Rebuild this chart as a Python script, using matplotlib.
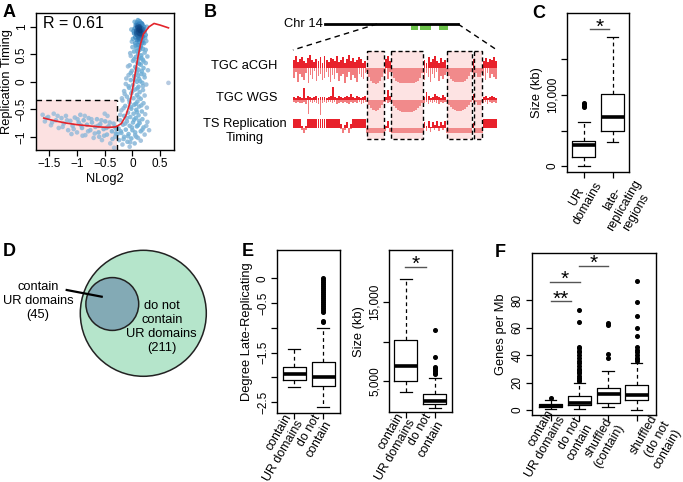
import numpy as np
import matplotlib.pyplot as plt
from matplotlib.patches import Rectangle, Circle
from matplotlib.colors import LinearSegmentedColormap
from matplotlib.transforms import ScaledTranslation

plt.rcParams['font.family'] = ['Liberation Sans', 'DejaVu Sans']
plt.rcParams['font.size'] = 9.3
plt.rcParams['axes.linewidth'] = 1.0

W, H = 683, 482

# ---------------- data ----------------
# A: copy number (NLog2) vs replication timing
nlog2 = [0.10, 0.13, 0.08, 0.15, 0.11, 0.06, 0.18, 0.13, 0.09, 0.16, 0.04, 0.12, 0.20, 0.07, 0.14,
         0.10, 0.17, 0.03, 0.22, 0.12, 0.08, 0.15, 0.19, 0.05, 0.11, 0.24, 0.14, 0.01, 0.08, 0.18,
         0.12, 0.05, 0.21, 0.10, 0.15, 0.00, 0.25, 0.07, 0.19, 0.13, -0.02, 0.26, 0.13, 0.10, 0.12,
         0.14, 0.09, 0.11, 0.16, 0.07,
         0.03, 0.22, 0.10, 0.16, -0.03, 0.06, 0.27, 0.12, 0.19, 0.01, 0.09, 0.24, 0.15, -0.05, 0.05,
         0.20, 0.11, -0.01, 0.28, 0.08, 0.16, -0.07, 0.03, 0.22, 0.12, -0.03, 0.08, 0.18, -0.12, 0.01,
         0.25, 0.11, -0.06, 0.05, 0.19, -0.15, 0.13, -0.02, 0.08, 0.22, -0.10, 0.02, 0.15, -0.18, 0.09,
         -0.05, 0.20, 0.03, -0.13, 0.12, 0.26, -0.02, 0.07, -0.20, 0.17, -0.08, 0.02, 0.23, 0.11, -0.15,
         -0.04, 0.06, 0.18, -0.22, -0.10, 0.01, 0.13, 0.27, -0.17, -0.05, 0.08, 0.20, -0.25, -0.12, 0.00,
         0.15, -0.20, -0.07, 0.05, 0.22, -0.15, -0.02, 0.10, -0.24, -0.09, 0.04, -0.18, -0.05, 0.15, 0.30,
         0.65,
         0.04, 0.17, 0.09, 0.21, 0.13, 0.02, 0.19, 0.07, 0.15, 0.23, 0.11, -0.01, 0.18, 0.06, 0.14,
         0.24, 0.09, -0.04, 0.16, 0.03, 0.20, 0.12, -0.08, 0.07, 0.17, -0.03, 0.10, 0.21, -0.11, 0.04,
         0.14, -0.07, 0.09, 0.19, -0.14, 0.00, 0.11, -0.19, -0.06, 0.06, 0.16, -0.16, -0.03, 0.08, -0.22,
         -0.10, 0.03, 0.12, -0.13, -0.01, 0.10, -0.21, -0.08, 0.05, 0.18, -0.27, -0.16, -0.04, 0.07, 0.25,
         -1.62, -1.58, -1.52, -1.47, -1.42, -1.38, -1.33, -1.28, -1.24, -1.20, -1.16, -1.12, -1.08, -1.04,
         -1.00, -0.97, -0.94, -0.91, -0.88, -0.85, -0.82, -0.79, -0.76, -0.73, -0.70, -0.67, -0.64, -0.61,
         -0.58, -0.55, -0.52, -0.49, -0.46, -0.43, -0.40, -0.37, -0.34, -0.31, -0.29, -0.33, -0.45, -0.60,
         -0.90, -1.10, -0.50,
         -1.55, -1.45, -1.35, -1.26, -1.18, -1.06, -0.99, -0.93, -0.86, -0.80, -0.74, -0.68, -0.62, -0.56,
         -0.51, -0.47, -0.41, -0.36, -0.32, -0.30]
rtime = [1.12, 1.10, 1.08, 1.07, 1.05, 1.03, 1.04, 1.01, 0.99, 0.98, 0.97, 0.95, 0.96, 0.93, 0.92,
         0.90, 0.89, 0.88, 0.91, 0.87, 0.85, 0.84, 0.82, 0.81, 0.80, 0.85, 0.78, 0.78, 0.76, 0.75,
         0.72, 0.70, 0.70, 0.67, 0.65, 0.63, 0.74, 0.61, 0.60, 0.58, 0.95, 1.00, 0.97, 0.94, 1.00,
         0.88, 1.06, 0.83, 0.93, 0.89,
         0.55, 0.53, 0.51, 0.48, 0.47, 0.45, 0.46, 0.42, 0.40, 0.38, 0.35, 0.34, 0.31, 0.30, 0.27,
         0.25, 0.22, 0.20, 0.21, 0.17, 0.14, 0.12, 0.10, 0.08, 0.05, 0.03, 0.00, -0.02, -0.04, -0.06,
         -0.05, -0.09, -0.11, -0.14, -0.15, -0.17, -0.19, -0.21, -0.24, -0.25, -0.27, -0.30, -0.31, -0.34, -0.36,
         -0.38, -0.39, -0.42, -0.44, -0.45, -0.47, -0.49, -0.51, -0.52, -0.54, -0.56, -0.58, -0.59, -0.61, -0.62,
         -0.64, -0.66, -0.68, -0.70, -0.72, -0.74, -0.75, -0.73, -0.78, -0.80, -0.81, -0.83, -0.85, -0.87, -0.88,
         -0.90, -0.93, -0.95, -0.97, -0.96, -1.00, -1.03, -1.02, -1.06, -1.09, -1.12, -1.14, -1.18, -1.07, -0.88,
         -0.02,
         1.09, 1.06, 1.02, 1.00, 0.98, 0.92, 0.94, 0.87, 0.86, 0.80, 0.77, 0.73, 0.71, 0.66, 0.62,
         0.58, 0.56, 0.52, 0.43, 0.41, 0.37, 0.33, 0.28, 0.24, 0.19, 0.16, 0.11, 0.13, 0.06, 0.04,
         0.01, -0.08, -0.12, -0.08, -0.22, -0.17, -0.28, -0.30, -0.33, -0.40, -0.43, -0.48, -0.46, -0.55, -0.60,
         -0.66, -0.69, -0.71, -0.76, -0.83, -0.79, -0.90, -0.99, -0.92, -0.87, -0.95, -1.04, -1.10, -1.00, -0.80,
         -0.60, -0.72, -0.64, -0.79, -0.58, -0.70, -0.84, -0.66, -0.76, -0.62, -0.88, -0.71, -0.80, -0.65,
         -0.92, -0.74, -0.60, -0.84, -0.70, -0.97, -0.78, -0.66, -0.88, -0.74, -1.02, -0.82, -0.68, -0.92,
         -0.77, -1.06, -0.86, -0.72, -0.96, -0.81, -1.12, -0.90, -0.76, -1.00, -0.86, -1.20, -0.62, -1.00,
         -0.98, -0.95, -0.58,
         -0.66, -0.74, -0.62, -0.82, -0.70, -0.86, -0.68, -0.79, -0.62, -0.90, -0.68, -0.94, -0.80, -0.70,
         -0.98, -0.84, -0.74, -1.04, -0.82, -0.94]
fit_x = [-1.6, -1.4, -1.2, -1.0, -0.8, -0.6, -0.45, -0.3, -0.2, -0.12, -0.05, 0.0, 0.05, 0.1, 0.15,
         0.2, 0.3, 0.39, 0.5, 0.65]
fit_y = [-0.66, -0.71, -0.75, -0.78, -0.80, -0.82, -0.83, -0.82, -0.76, -0.62, -0.40, -0.15, 0.15,
         0.45, 0.70, 0.87, 1.00, 1.06, 1.03, 0.98]
r_value = 0.61
late_x, late_y = -0.28, -0.33

# B: chromosome 14 tracks (100 bins across zoomed window)
dom_start = [36.2, 48.0, 75.4, 88.6]
dom_end = [44.6, 63.7, 87.6, 92.6]
chr_span = [15.7, 80.9]
zoom_span = [41.2, 80.9]
green_start = [57.8, 62.3, 71.6]
green_end = [61.3, 67.6, 76.0]
acgh_up = ([8, 12, 6, 9, 11, 7, 5, 10, 13, 8, 6, 9, 7, 11, 5, 12, 8, 6, 10, 9, 7, 12, 6, 8, 11, 5, 9, 13, 7, 10,
            6, 8, 11, 9, 5, 7] + [0] * 9 + [9, 12, 7] + [0] * 16 + [8, 5, 11, 6, 9, 12, 7, 5, 10, 6, 8]
           + [0] * 13 + [9] + [0] * 4 + [7, 10, 6, 9, 8, 11, 7])
acgh_dn = ([10, 4, 14, 6, 9, 12, 5, 15, 7, 11, 3, 13, 8, 6, 12, 10, 4, 9, 14, 7, 11, 5, 13, 8, 6, 15, 9, 4, 12,
            7, 10, 14, 6, 9, 11, 5] + [4, 9, 13, 15, 16, 15, 13, 9, 4] + [6, 11, 4]
           + [5, 10, 13, 14, 15, 15, 15, 15, 15, 15, 15, 15, 14, 13, 10, 5] + [12, 5, 9, 14, 6, 10, 4, 13, 8, 11, 7]
           + [4, 8, 11, 13, 14, 14, 14, 14, 14, 13, 11, 8, 4] + [10] + [5, 9, 9, 5] + [8, 12, 5, 10, 6, 9, 11])
wgs_up = ([3, 2, 4, 3, 2, 12, 2, 4, 3, 2, 3, 4, 2, 3, 3, 3, 2, 3, 4, 13, 3, 2, 4, 3, 2, 3, 4, 3, 6, 3, 2, 4, 3,
           2, 3, 4] + [0] * 9 + [3, 10, 4] + [0] * 16 + [3, 8, 4, 2, 3, 6, 4, 3, 2, 5, 3]
          + [0] * 13 + [6] + [0] * 4 + [3, 4, 2, 3, 4, 3, 2])
wgs_dn = ([2, 3, 2, 3, 3, 2, 4, 14, 2, 3, 2, 3, 4, 15, 3, 2, 3, 2, 2, 3, 2, 4, 3, 2, 3, 2, 3, 4, 2, 3, 2, 3, 2,
           4, 3, 2] + [2, 5, 8, 10, 11, 10, 8, 5, 2] + [2, 3, 2]
          + [3, 6, 8, 10, 11, 12, 12, 12, 12, 12, 12, 11, 10, 8, 6, 3] + [3, 2, 4, 2, 3, 2, 3, 4, 2, 3, 2]
          + [2, 5, 7, 9, 10, 11, 11, 11, 10, 9, 7, 5, 2] + [3] + [2, 5, 5, 2] + [3, 2, 4, 2, 3, 2, 3])
ts_up = ([9, 9, 9, 9, 2, 0, 2, 9, 9, 9, 9, 9, 9, 9, 9, 9, 9, 9, 9, 9, 9, 9, 9, 4, 0, 3, 6, 0, 4, 9, 9, 9, 9, 9,
          9, 9] + [0] * 9 + [2, 7, 0] + [0] * 16 + [6, 2, 7, 1, 6, 3, 7, 2, 6, 3, 7]
         + [0] * 13 + [5] + [0] * 4 + [9] * 7)
ts_dn = ([0, 0, 0, 0, 2, 5, 2, 0, 0, 0, 0, 0, 0, 0, 0, 0, 0, 0, 0, 0, 0, 0, 0, 1, 5, 2, 0, 5, 1, 0, 0, 0, 0, 0,
          0, 0] + [5] * 9 + [3, 0, 4] + [5] * 16 + [0, 3, 0, 4, 0, 2, 0, 3, 0, 2, 0]
         + [5] * 13 + [0] + [5] * 4 + [0] * 7)
track_names = ['TGC aCGH', 'TGC WGS', 'TS Replication\nTiming']

# C
c_labels = ['UR\ndomains', 'late-\nreplicating\nregions']
c_med = [2900, 6850]
c_q1 = [1250, 4900]
c_q3 = [3550, 10150]
c_lo = [50, 3420]
c_hi = [6150, 18200]
c_fl = [[8300, 8500, 8700, 8900], []]

# D
n_contain = 45
n_not = 211

# E
e_labels = ['contain\nUR domains', 'do not\ncontain']
e1_med = [-1.93, -2.0]
e1_q1 = [-2.05, -2.18]
e1_q3 = [-1.79, -1.69]
e1_lo = [-2.2, -2.59]
e1_hi = [-1.43, -1.0]
e1_fl = [[], [-0.89, -0.86, -0.68, -0.64, -0.60, -0.56, -0.52, -0.48, -0.44, -0.40, -0.36, -0.32,
              -0.28, -0.24, -0.20, -0.16, -0.12, -0.08, -0.04, 0.0]]
e2_med = [6900, 2500]
e2_q1 = [5000, 2040]
e2_q3 = [10250, 3310]
e2_lo = [3600, 1530]
e2_hi = [17900, 5420]
e2_fl = [[], [11450, 8010, 6820, 6650, 6450, 6250, 6050, 5900]]

# F
f_labels = ['contain\nUR domains', 'do not\ncontain', 'shuffled\n(contain)', 'shuffled\n(do not\ncontain)']
f_med = [3.3, 5.3, 11.4, 10.9]
f_q1 = [2.2, 3.4, 5.3, 7.3]
f_q3 = [4.6, 10.2, 16.2, 18.2]
f_lo = [1.0, 0.5, 2.4, 0.0]
f_hi = [7.5, 19.8, 28.4, 34.4]
f_fl = [[8.5],
        [72.5, 64, 46, 45, 43, 42, 40, 38, 36, 34, 32, 30, 29, 28, 27, 25, 23, 22, 21],
        [63, 62, 41, 38],
        [94, 78.5, 68.5, 60, 53.5, 46, 44, 42, 40, 38, 37, 36]]
f_sig = [(1.0, 1.71, 79.3, '**'), (0.98, 2.01, 93.3, '*'), (2.0, 3.0, 104.9, '*')]

# ---------------- drawing ----------------
fig = plt.figure(figsize=(W / 100, H / 100), dpi=100)


def px_axes(l, t, r, b):
    return fig.add_axes([l / W, 1 - b / H, (r - l) / W, (b - t) / H])


def r_style(ax):
    ax.tick_params(direction='out', length=4, width=0.9, labelsize=8.5, pad=2)
    ax.tick_params(axis='y', labelrotation=90)
    for lab in ax.get_yticklabels():
        lab.set_va('center')


def boxes(ax, med, q1, q3, lo, hi, fl, labels, malign='right', shifts=None):
    stats = [dict(med=m, q1=a, q3=b, whislo=c, whishi=d, fliers=f)
             for m, a, b, c, d, f in zip(med, q1, q3, lo, hi, fl)]
    pos = list(range(1, len(stats) + 1))
    ax.bxp(stats, positions=pos, widths=0.8, capwidths=0.4,
           boxprops=dict(color='black', lw=0.9),
           whiskerprops=dict(color='black', lw=0.9, ls=(0, (3, 2.5))),
           capprops=dict(color='black', lw=0.9),
           medianprops=dict(color='black', lw=2.6),
           flierprops=dict(marker='o', mfc='black', mec='black', ms=2.6))
    ax.set_xlim(0.5 - 0.04 * len(stats), len(stats) + 0.5 + 0.04 * len(stats))
    ax.set_xticks(pos)
    ax.set_xticklabels([''] * len(pos))
    base = ax.get_xaxis_transform()
    # rotated category names, placed as figure texts below each box
    for p, lab, (dx, dy) in zip(pos, labels, shifts):
        tr = base + ScaledTranslation(dx / 100, -dy / 100, fig.dpi_scale_trans)
        fig.text(p, 0, lab, transform=tr, rotation=60, ha='right', va='center',
                 rotation_mode='anchor', multialignment=malign, fontsize=8.9,
                 linespacing=1.15)


def sig(ax, x0, x1, y, s):
    ax.plot([x0, x1], [y, y], color='#555555', lw=1.0, clip_on=False)
    ax.annotate(s, xy=((x0 + x1) / 2, y), xytext=(0, -2.5), textcoords='offset points',
                ha='center', va='baseline', fontsize=15, annotation_clip=False)


# --- A ---
axA = px_axes(36, 13, 174, 150)
axA.set_xlim(-1.74, 0.75)
axA.set_ylim(-1.24, 1.25)
axA.add_patch(Rectangle((-1.74, -1.24), late_x + 1.74, late_y + 1.24, color='#fce1e1', lw=0, zorder=0))
axA.plot([-1.74, late_x], [late_y, late_y], color='black', ls=(0, (4, 3)), lw=1, zorder=3)
axA.plot([late_x, late_x], [-1.24, late_y], color='black', ls=(0, (4, 3)), lw=1, zorder=3)
px = np.array(nlog2)
py = np.array(rtime)
pts = np.column_stack([px / 0.12, py / 0.16])
d2 = ((pts[:, None, :] - pts[None, :, :]) ** 2).sum(-1)
dens = (d2 < 1.0).sum(1).astype(float)
order = np.argsort(dens)
cmap = LinearSegmentedColormap.from_list('dens', ['#a9c1dc', '#6aaed6', '#3585c2', '#0b3d7a'])
axA.scatter(px[order], py[order], c=dens[order], cmap=cmap, s=11, lw=0, alpha=0.85, zorder=2)
axA.plot(fit_x, fit_y, color='#e3242b', lw=1.2, zorder=4)
axA.text(-1.62, 1.2, f'R = {r_value}', fontsize=11.5, va='top')
axA.set_xticks([-1.5, -1, -0.5, 0, 0.5])
axA.set_xticklabels(['\u22121.5', '\u22121', '\u22120.5', '0', '0.5'])
axA.set_yticks([-1, -0.5, 0, 0.5, 1])
axA.set_yticklabels(['\u22121', '\u22120.5', '0', '0.5', '1'])
axA.set_xlabel('NLog2', labelpad=2)
axA.set_ylabel('Replication Timing', labelpad=2)
r_style(axA)

# --- B ---
axB = px_axes(195, 0, 510, 150)
axB.set_xlim(-48, 106.4)
axB.set_ylim(150, 0)
axB.axis('off')
axB.plot(chr_span, [24, 24], color='black', lw=2)
axB.text(chr_span[0] - 1, 24, 'Chr 14', ha='right', va='center', fontsize=9.3)
for s, e in zip(green_start, green_end):
    axB.add_patch(Rectangle((s, 24), e - s, 6, color='#6cc24a', lw=0))
axB.plot([zoom_span[0], 0], [24, 50], color='black', lw=1, ls=(0, (4, 3)))
axB.plot([zoom_span[1], 100], [24, 50], color='black', lw=1, ls=(0, (4, 3)))
for s, e in zip(dom_start, dom_end):
    axB.add_patch(Rectangle((s, 50.7), e - s, 88.6, color='#fde3e3', lw=0, zorder=0))
    axB.add_patch(Rectangle((s, 50.7), e - s, 88.6, fill=False, ec='black', lw=1,
                            ls=(0, (3, 2)), zorder=5))
pos = np.arange(100) + 0.5
in_dom = np.zeros(100, dtype=bool)
for s, e in zip(dom_start, dom_end):
    in_dom |= (pos >= s) & (pos < e)
bases = [68, 100, 128]
tracks = [(acgh_up, acgh_dn), (wgs_up, wgs_dn), (ts_up, ts_dn)]
for base, (up, dn), name in zip(bases, tracks, track_names):
    up = np.array(up, dtype=float)
    dn = np.array(dn, dtype=float)
    axB.bar(pos[~in_dom], dn[~in_dom], bottom=base, width=0.7, color='#f27d7f', lw=0, zorder=2)
    axB.bar(pos[in_dom], dn[in_dom], bottom=base, width=1.02, color='#f18a8b', lw=0, zorder=2)
    axB.bar(pos, -up, bottom=base, width=0.9, color='#e8212b', lw=0, zorder=3)
    if '\n' in name:
        axB.text(-23.5, base + 3, name, ha='center', va='center', fontsize=9.3, linespacing=1.25)
    else:
        axB.text(-7.4, base - 2, name, ha='right', va='center', fontsize=9.3)

# --- C ---
axC = px_axes(567.3, 13.3, 629.3, 171.7)
boxes(axC, c_med, c_q1, c_q3, c_lo, c_hi, c_fl, c_labels, malign='center',
      shifts=[(10, 8), (26, 9)])
axC.set_ylim(-800, 21500)
axC.set_yticks([0, 5000, 10000, 15000])
axC.set_yticklabels(['0', '', '10,000', ''])
axC.set_ylabel('Size (kb)', labelpad=3)
r_style(axC)
sig(axC, 1.22, 1.89, 19250, '*')

# --- D ---
axD = px_axes(0, 230, 230, 482)
axD.set_xlim(0, 230)
axD.set_ylim(482, 230)
axD.set_aspect('equal')
axD.axis('off')
R_big = 63
r_small = R_big * np.sqrt(n_contain / (n_contain + n_not))
axD.add_patch(Circle((143.3, 313.3), R_big, fc='#b5e5cb', ec='#222222', lw=1.1))
axD.add_patch(Circle((112.3, 304), r_small, fc='#83aab5', ec='#222222', lw=1.1))
axD.plot([66.7, 101.7], [290, 296.7], color='black', lw=1.6)
axD.text(38, 301, f'contain\nUR domains\n({n_contain})', ha='center', va='center', fontsize=9.3,
         linespacing=1.2)
axD.text(161.7, 327, f'do not\ncontain\nUR domains\n({n_not})', ha='center', va='center',
         fontsize=9.3, linespacing=1.2)

# --- E ---
axE1 = px_axes(277.3, 250, 340, 412.7)
boxes(axE1, e1_med, e1_q1, e1_q3, e1_lo, e1_hi, e1_fl, e_labels, shifts=[(1, 5), (0, 6)])
axE1.set_ylim(-2.71, 0.57)
axE1.set_yticks([0, -0.5, -1, -1.5, -2, -2.5])
axE1.set_yticklabels(['0', '\u22120.5', '', '\u22121.5', '', '\u22122.5'])
axE1.set_ylabel('Degree Late-Replicating', labelpad=3)
r_style(axE1)

axE2 = px_axes(389, 250, 451.7, 412.3)
boxes(axE2, e2_med, e2_q1, e2_q3, e2_lo, e2_hi, e2_fl, e_labels, shifts=[(1, 5), (0, 6)])
axE2.set_ylim(1025, 21640)
axE2.set_yticks([5000, 10000, 15000])
axE2.set_yticklabels(['5,000', '', '15,000'])
axE2.set_ylabel('Size (kb)', labelpad=3)
r_style(axE2)
sig(axE2, 0.97, 1.68, 19520, '*')

# --- F ---
axF = px_axes(531.7, 252.7, 655.7, 415)
boxes(axF, f_med, f_q1, f_q3, f_lo, f_hi, f_fl, f_labels,
      shifts=[(6, -1), (5, 7), (7, 7), (30, 8)])
axF.set_ylim(-3.6, 114.4)
axF.set_yticks([0, 20, 40, 60, 80])
axF.set_ylabel('Genes per Mb', labelpad=3)
r_style(axF)
for x0, x1, y, s in f_sig:
    sig(axF, x0, x1, y, s)

# panel letters
for lab, x, y in [('A', 3, 4), ('B', 204, 4), ('C', 532, 5), ('D', 3, 243), ('E', 242, 243), ('F', 495, 244)]:
    fig.text(x / W, 1 - y / H, lab, fontsize=13, fontweight='bold', va='top')

fig.savefig('out.png', dpi=100)
